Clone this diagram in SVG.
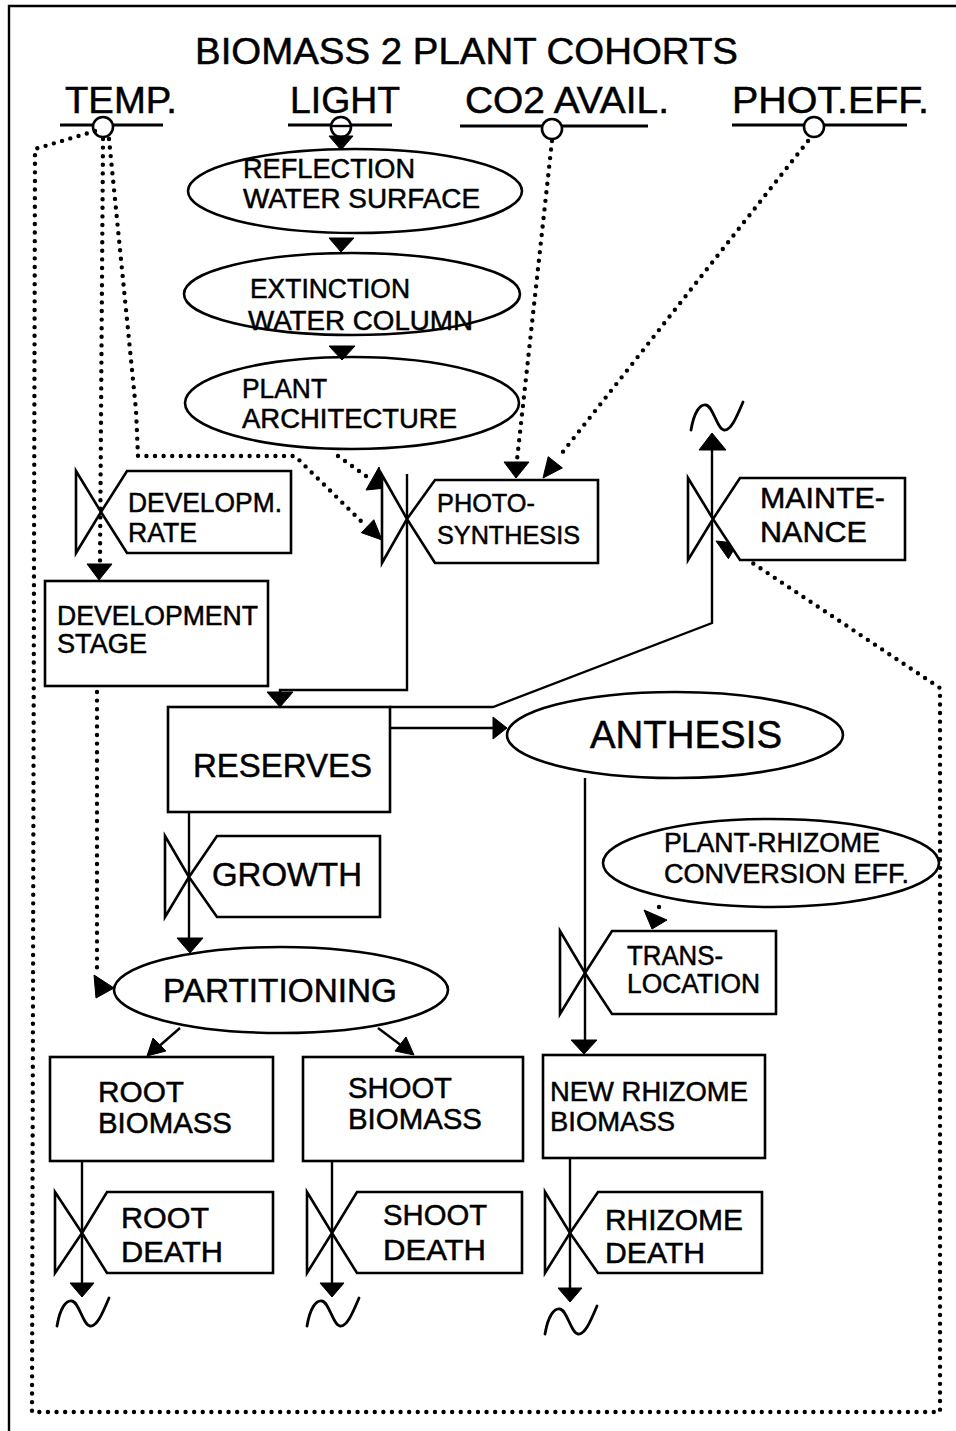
<svg xmlns="http://www.w3.org/2000/svg" width="956" height="1431" viewBox="0 0 956 1431">
<style>
text{font-family:"Liberation Sans",Arial,sans-serif;fill:#000;stroke:#000;stroke-width:0.5}
.sh{fill:#fff;stroke:#000;stroke-width:2.6}
.ln{fill:none;stroke:#000;stroke-width:2.4}
.ul{fill:none;stroke:#000;stroke-width:3}
.dt{fill:none;stroke:#000;stroke-width:4.4;stroke-linecap:round;stroke-dasharray:0 8.6}
.ah{fill:#000;stroke:#000;stroke-width:1}
.tl{fill:none;stroke:#000;stroke-width:2.8;stroke-linecap:round}
</style>
<defs>
<path id="tilde" d="M0,28 C3,10 9,2 15,3 C22,4 26,27 33,28 C40,29 46,14 52,0"/>
</defs>
<rect width="956" height="1431" fill="#fff"/>
<path class="ln" d="M9,1431 V6 H956" stroke-width="2.6"/>
<text x="195" y="64" font-size="37" textLength="543" lengthAdjust="spacingAndGlyphs">BIOMASS 2 PLANT COHORTS</text>

<g id="temp">
<text x="65" y="113" font-size="37" textLength="112" lengthAdjust="spacingAndGlyphs">TEMP.</text>
<line class="ul" x1="60" y1="125" x2="163" y2="125"/>
<circle class="sh" cx="103" cy="127" r="10"/>
</g>
<g id="light">
<text x="290" y="113" font-size="37" textLength="110" lengthAdjust="spacingAndGlyphs">LIGHT</text>
<line class="ul" x1="288" y1="125" x2="392" y2="125"/>
<circle class="sh" cx="341" cy="127" r="10"/>
<line class="ln" x1="331" y1="126" x2="351" y2="126"/>
</g>
<g id="co2">
<text x="465" y="113" font-size="37" textLength="204" lengthAdjust="spacingAndGlyphs">CO2 AVAIL.</text>
<line class="ul" x1="460" y1="126" x2="648" y2="126"/>
<circle class="sh" cx="552" cy="129" r="10"/>
</g>
<g id="photeff">
<text x="732" y="113" font-size="37" textLength="197" lengthAdjust="spacingAndGlyphs">PHOT.EFF.</text>
<line class="ul" x1="732" y1="125" x2="907" y2="125"/>
<circle class="sh" cx="814" cy="127" r="10"/>
</g>

<g id="reflection">
<ellipse class="sh" cx="355" cy="191" rx="167" ry="42"/>
<text x="243" y="178" font-size="27" textLength="172" lengthAdjust="spacingAndGlyphs">REFLECTION</text>
<text x="243" y="208" font-size="27" textLength="237" lengthAdjust="spacingAndGlyphs">WATER SURFACE</text>
</g>
<g id="extinction">
<ellipse class="sh" cx="352" cy="294" rx="168" ry="41"/>
<text x="250" y="298" font-size="27" textLength="160" lengthAdjust="spacingAndGlyphs">EXTINCTION</text>
<text x="248" y="330" font-size="27" textLength="225" lengthAdjust="spacingAndGlyphs">WATER COLUMN</text>
</g>
<g id="plantarch">
<ellipse class="sh" cx="352" cy="403" rx="167" ry="46"/>
<text x="242" y="398" font-size="27" textLength="85" lengthAdjust="spacingAndGlyphs">PLANT</text>
<text x="242" y="428" font-size="27" textLength="215" lengthAdjust="spacingAndGlyphs">ARCHITECTURE</text>
</g>

<g id="connectors">
<path class="dt" d="M95,131 L35,149 L32,1412 L940,1412 L940,688 L748,560"/>
<polygon class="ah" points="716,541 737.6,543.3 728.4,558.7"/>
<path class="dt" d="M103,139 L100,562"/>
<polygon class="ah" points="87,564 112,564 99,580"/>
<path class="dt" d="M109,139 L136,410 L138,456 L295,456 L366,526"/>
<polygon class="ah" points="382,540 361.4,532.7 373.8,519.7"/>
<path class="dt" d="M338,456 L366,476"/>
<polygon class="ah" points="379,467 366,490 386,488"/>
<path class="dt" d="M552,141 L517,460"/>
<polygon class="ah" points="504,462 529,462 516,478"/>
<path class="dt" d="M808,141 L558,458"/>
<polygon class="ah" points="543,478 562.4,467.9 548.2,456.7"/>
<path class="dt" d="M97,692 L97,968"/>
<polygon class="ah" points="114,988 94,975 96,998"/>
<path class="dt" d="M659,907 L659,908"/>
<polygon class="ah" points="644,910 667,920 652,929"/>
<polygon class="ah" points="329,136 353,136 341,150"/>
<polygon class="ah" points="329,238 354,238 341,252"/>
<polygon class="ah" points="329,346 355,346 342,360"/>
<path class="ln" d="M407,474 V690 H280 V694"/>
<polygon class="ah" points="267,692 293,692 280,707"/>
<path class="ln" d="M390,707 H493 L712,623 V448"/>
<polygon class="ah" points="699,450 726,450 712,433"/>
<use href="#tilde" class="tl" transform="translate(691,402)"/>
<path class="ln" d="M390,728 H495"/>
<polygon class="ah" points="507,728 493,717 493,739"/>
<path class="ln" d="M189,812 V940"/>
<polygon class="ah" points="177,938 203,938 190,953"/>
<path class="ln" d="M180,1028 L157,1048"/>
<polygon class="ah" points="147,1056 153,1038 166,1051"/>
<path class="ln" d="M378,1028 L402,1046"/>
<polygon class="ah" points="414,1055 395,1051 406,1037"/>
<path class="ln" d="M585,778 V1040"/>
<polygon class="ah" points="571,1040 597,1040 584,1054"/>
<path class="ln" d="M82,1161 V1284"/>
<polygon class="ah" points="70,1283 94,1283 82,1297"/>
<use href="#tilde" class="tl" transform="translate(57,1298)"/>
<path class="ln" d="M332,1161 V1284"/>
<polygon class="ah" points="320,1283 344,1283 332,1297"/>
<use href="#tilde" class="tl" transform="translate(307,1298)"/>
<path class="ln" d="M570,1158 V1290"/>
<polygon class="ah" points="558,1288 582,1288 570,1302"/>
<use href="#tilde" class="tl" transform="translate(545,1306)"/>
</g>

<g id="developm-rate">
<path class="sh" d="M76,471 L101,512 L76,553 Z"/>
<path class="sh" d="M127,471 H291 V553 H127 L101,512 Z"/>
<text x="128" y="512" font-size="27" textLength="154" lengthAdjust="spacingAndGlyphs">DEVELOPM.</text>
<text x="128" y="542" font-size="27" textLength="69" lengthAdjust="spacingAndGlyphs">RATE</text>
</g>
<g id="photosynthesis">
<path class="sh" d="M382,475 L407,519 L382,563 Z"/>
<path class="sh" d="M435,480 H598 V563 H435 L407,519 Z"/>
<text x="437" y="512" font-size="26" textLength="98" lengthAdjust="spacingAndGlyphs">PHOTO-</text>
<text x="437" y="544" font-size="26" textLength="143" lengthAdjust="spacingAndGlyphs">SYNTHESIS</text>
</g>
<g id="maintenance">
<path class="sh" d="M688,478 L713,519 L688,560 Z"/>
<path class="sh" d="M740,478 H905 V560 H740 L713,519 Z"/>
<text x="760" y="508" font-size="30" textLength="125" lengthAdjust="spacingAndGlyphs">MAINTE-</text>
<text x="760" y="542" font-size="30" textLength="107" lengthAdjust="spacingAndGlyphs">NANCE</text>
</g>
<g id="development-stage">
<rect class="sh" x="45" y="581" width="223" height="105"/>
<text x="57" y="625" font-size="27" textLength="201" lengthAdjust="spacingAndGlyphs">DEVELOPMENT</text>
<text x="57" y="653" font-size="27" textLength="90" lengthAdjust="spacingAndGlyphs">STAGE</text>
</g>
<g id="reserves">
<rect class="sh" x="168" y="707" width="222" height="105"/>
<text x="193" y="777" font-size="33" textLength="179" lengthAdjust="spacingAndGlyphs">RESERVES</text>
</g>
<g id="anthesis">
<ellipse class="sh" cx="675" cy="735" rx="168" ry="43"/>
<text x="590" y="748" font-size="38" textLength="192" lengthAdjust="spacingAndGlyphs">ANTHESIS</text>
</g>
<g id="growth">
<path class="sh" d="M165,836 L189,877 L165,917 Z"/>
<path class="sh" d="M217,836 H380 V917 H217 L189,877 Z"/>
<text x="212" y="886" font-size="33" textLength="150" lengthAdjust="spacingAndGlyphs">GROWTH</text>
</g>
<g id="conversion">
<ellipse class="sh" cx="771" cy="863" rx="168" ry="44"/>
<text x="664" y="852" font-size="27" textLength="216" lengthAdjust="spacingAndGlyphs">PLANT-RHIZOME</text>
<text x="664" y="883" font-size="27" textLength="245" lengthAdjust="spacingAndGlyphs">CONVERSION EFF.</text>
</g>
<g id="translocation">
<path class="sh" d="M560,931 L585,973 L560,1014 Z"/>
<path class="sh" d="M612,931 H776 V1014 H612 L585,973 Z"/>
<text x="627" y="965" font-size="27" textLength="96" lengthAdjust="spacingAndGlyphs">TRANS-</text>
<text x="627" y="993" font-size="27" textLength="133" lengthAdjust="spacingAndGlyphs">LOCATION</text>
</g>
<g id="partitioning">
<ellipse class="sh" cx="281" cy="990" rx="167" ry="43"/>
<text x="163" y="1002" font-size="33" textLength="234" lengthAdjust="spacingAndGlyphs">PARTITIONING</text>
</g>
<g id="root-biomass">
<rect class="sh" x="50" y="1057" width="223" height="104"/>
<text x="98" y="1102" font-size="29" textLength="86" lengthAdjust="spacingAndGlyphs">ROOT</text>
<text x="98" y="1133" font-size="29" textLength="134" lengthAdjust="spacingAndGlyphs">BIOMASS</text>
</g>
<g id="shoot-biomass">
<rect class="sh" x="303" y="1057" width="220" height="104"/>
<text x="348" y="1098" font-size="29" textLength="104" lengthAdjust="spacingAndGlyphs">SHOOT</text>
<text x="348" y="1129" font-size="29" textLength="134" lengthAdjust="spacingAndGlyphs">BIOMASS</text>
</g>
<g id="new-rhizome-biomass">
<rect class="sh" x="543" y="1055" width="222" height="103"/>
<text x="550" y="1101" font-size="28" textLength="198" lengthAdjust="spacingAndGlyphs">NEW RHIZOME</text>
<text x="550" y="1131" font-size="28" textLength="125" lengthAdjust="spacingAndGlyphs">BIOMASS</text>
</g>
<g id="root-death">
<path class="sh" d="M55,1192 L82,1233 L55,1273 Z"/>
<path class="sh" d="M107,1192 H273 V1273 H107 L82,1233 Z"/>
<text x="121" y="1228" font-size="30" textLength="88" lengthAdjust="spacingAndGlyphs">ROOT</text>
<text x="121" y="1262" font-size="30" textLength="102" lengthAdjust="spacingAndGlyphs">DEATH</text>
</g>
<g id="shoot-death">
<path class="sh" d="M307,1192 L332,1233 L307,1273 Z"/>
<path class="sh" d="M357,1192 H522 V1273 H357 L332,1233 Z"/>
<text x="383" y="1225" font-size="30" textLength="104" lengthAdjust="spacingAndGlyphs">SHOOT</text>
<text x="383" y="1260" font-size="30" textLength="103" lengthAdjust="spacingAndGlyphs">DEATH</text>
</g>
<g id="rhizome-death">
<path class="sh" d="M545,1192 L570,1233 L545,1273 Z"/>
<path class="sh" d="M598,1192 H762 V1273 H598 L570,1233 Z"/>
<text x="605" y="1230" font-size="30" textLength="138" lengthAdjust="spacingAndGlyphs">RHIZOME</text>
<text x="605" y="1263" font-size="30" textLength="100" lengthAdjust="spacingAndGlyphs">DEATH</text>
</g>
</svg>
